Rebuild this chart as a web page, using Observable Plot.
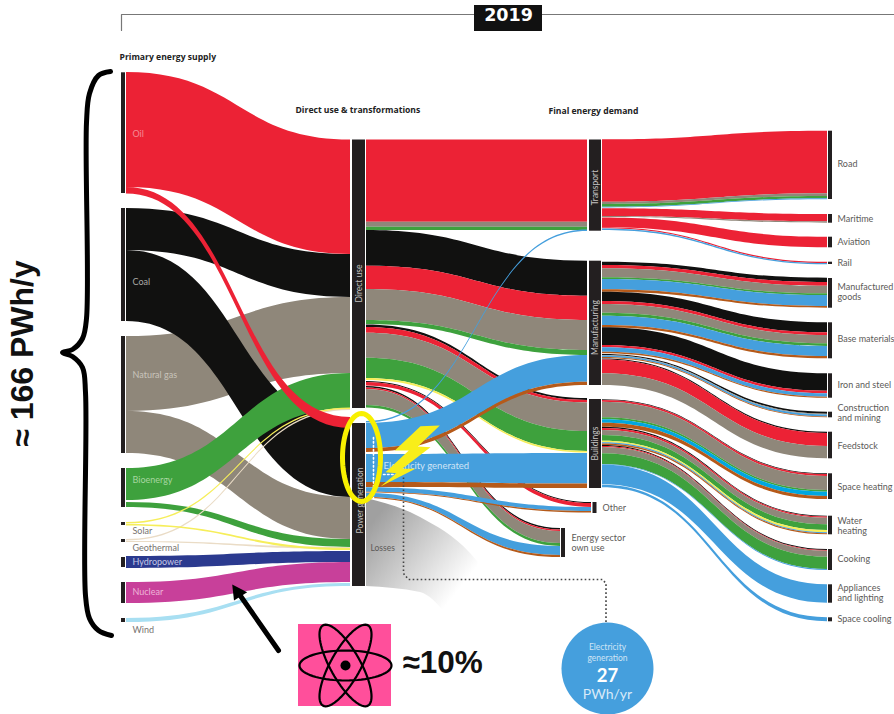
<!DOCTYPE html>
<html>
<head>
<meta charset="utf-8">
<style>html,body{margin:0;padding:0;background:#fff;overflow:hidden}</style>
<script src="https://cdn.jsdelivr.net/npm/d3@7"></script>
<script src="https://cdn.jsdelivr.net/npm/@observablehq/plot@0.6"></script>
</head>
<body>
<div id="chart"></div>
<script>
// Fuels and their colours
const fuels = ["oil","coal","gas","bio","solar","geo","hydro","nuclear","wind","elec","heat","district"];
const fuelColors = ["#ec2235","#111110","#8f877a","#3ea13d","#f6ee5a","#eadcc6","#2b3a8f","#c8409a","#a8dff2","#459fdd","#b55a1a","#00a7e1"];

// Each flow: fuel, top and bottom at its start, top and bottom at its end (chart units)
const supplyFlows = [
  ["gas",336,411,297,373],["gas",411,453,497,539],
  ["coal",208,250,254,297],["coal",250,321,424,497],
  ["oil",72,187,139.5,254],
  ["hydro",556,568,551,562],["nuclear",582,603,562,582],["wind",618,622,583,586],
  ["bio",468,500,373,408],["bio",502,507,539,547],
  ["geo",539,540.5,408.5,410],["geo",541,542,547,549],
  ["solar",522,523.5,407.5,409],["solar",524,525.5,548,550],
  ["oil",187,193.5,417,428]
];
const energySectorFuels = [["coal",386,387.5,528,529.5],["oil",387.5,389,529.5,531],["gas",389,405,531,543],["bio",405,407.5,543,546]];
const otherFuels = [["coal",381,382,502,503],["oil",382,385.5,503,507]];
const directFlows = [
  ["coal",324.5,327,398,400],["oil",327,332.7,400,402.5],["gas",332.7,357.7,402.5,431],["bio",357.7,378,431,451],["solar",378,380,451,452.5],
  ["oil",139.5,221.7,139.5,221.7],["gas",221.7,226.7,221.7,226.7],["bio",226.7,230,226.7,230],
  ["coal",230,265.7,260.7,295.7],["oil",265.7,289,295.7,320],["gas",289,320,320,350],["bio",320,324,350,355],
  ["elec",421,422.5,229.5,231]
];
const energySectorPower = [["elec",493,497,546,555],["heat",497,498,555,557]];
const otherPower = [["elec",487.3,491.7,507,511],["heat",491.7,492.5,511,512.5]];
const powerFlows = [
  ["elec",454,482,453,483.5],["heat",482,487,483.5,488],
  ["elec",423,448,355,381.7],["heat",448,452,381.7,385]
];
const demandFlows = [
  ["oil",139.3,201.7,130.7,193.3],["gas",201.7,204,193.3,196],["bio",204,206.7,196,198.3],["elec",206.7,207.5,198.3,199.2],
  ["oil",208.3,216,214,221.3],["gas",216,217,221.3,222.7],
  ["oil",217.5,227.3,236.7,247.3],
  ["oil",227.3,228.3,261.7,263],["elec",228.5,230,263,264.3],
  ["coal",261.7,265,277.7,282],["oil",265,268.3,282,285.7],["gas",268.3,277.3,285.7,293.3],["bio",277.3,279,293.3,295],["elec",279,289.3,295,306],["heat",289.3,291.7,306,307.7],
  ["coal",291.7,301,322.3,332.3],["oil",301,304,332.3,335],["gas",304,312.7,335,343.3],["bio",312.7,315.7,343.3,346],["elec",315.7,325,346,356],["heat",325,327.3,356,358.3],
  ["coal",327.3,345,373.3,390.7],["oil",345,347.3,390.7,393.3],["elec",347.3,351.7,393.3,396.7],["heat",351.7,353.3,396.7,397.7],
  ["coal",354,355,411.7,413.7],["gas",355,355.5,413.7,414.5],["elec",355.5,357,414.5,416.5],["heat",357,358,416.5,417.3],
  ["coal",358.5,359.5,431.7,433],["oil",359.5,373.3,433,446],["gas",373.3,385,446,458.3],
  ["coal",399.3,400,473.3,474],["oil",400,401.7,474,476],["gas",401.7,417.3,476,490],["bio",417.3,419.3,490,491.7],["district",419.3,422.7,491.7,496],["heat",422.7,426.7,496,499],
  ["coal",426.7,428,515.7,516.5],["oil",428,430,516.5,517.7],["gas",430,435,517.7,524.3],["bio",435,440.7,524.3,530],["solar",440.7,442.3,530,532.3],["elec",442.3,443.5,532.3,533.3],["heat",443.5,445,533.3,534.3],
  ["coal",445,446,549,550],["oil",446,447,550,550.7],["gas",447,453.3,550.7,556.7],["bio",453.3,464,556.7,569],["elec",464,464.5,569,570],
  ["elec",464.5,484.3,584.3,602.7],["elec",484.8,487.3,617.3,621.3]
];

// Stage columns
const supplySpan = [126,350];
const directSpan = [366,587];
const energySpan = [366,560];
const otherSpan = [366,591];
const demandSpan = [602,827];

// Node bars
const supplyNodes = [[72.3,193],[208,321],[336,453],[468,507],[522,525],[539,542],[557,567],[582,603],[618,622]];
const middleNodes = [[139.5,408],[423,586]];
const finalNodes = [[139.5,230.7],[260.7,385],[399,488]];
const demandNodes = [[130.7,199],[214,222.7],[236.7,247.3],[261.7,264],[278,307.7],[322.3,358.3],[373.3,397.7],[411.7,417.3],[431.7,458.3],[473.3,499],[515.7,534.3],[549,570],[584.3,602.7],[617.3,621.3]];
const sideNodes = [[592.5,596.5,502,513],[561,565,528,557]];

// Texts
const supplyNames = ["Oil","Coal","Natural gas","Bioenergy","Solar","Geothermal","Hydropower","Nuclear","Wind"];
const supplyNameY = [134,282,375,480,531,548,562,592,630];
const supplyNameColor = ["#f48a96","#aaa8a4","#c9c4ba","#a6d6a0","#77736f","#77736f","#c5c9e6","#eeb5d8","#77736f"];
const demandNames = ["Road","Maritime","Aviation","Rail","Manufactured","goods","Base materials","Iron and steel","Construction","and mining","Feedstock","Space heating","Water","heating","Cooking","Appliances","and lighting","Space cooling"];
const demandNameY = [164,219,242,263,287,297,339,385,407.5,417.5,446,487,521,531,559,588,598,619];
const headers = ["Primary energy supply","Direct use & transformations","Final energy demand"];
const headerX = [119,295,548];
const headerY = [57,110,111];
const stageNames = ["Direct use","Power generation","Transport","Manufacturing","Buildings"];
const stageNameX = [359,359.5,595,595,595];
const stageNameY = [283,500,187,327,443];

// Annotation outlines
const brace = [[110,71],[98,75],[89,93],[86,122],[86,318],[82,338],[72,349],[62,352],[72,356],[82,367],[85,392],[85,595],[89,618],[98,630],[111,635]];
const bolt = [[420,425.7],[439.3,425],[417.3,446],[430,446.7],[401.7,468.3],[415,468.3],[380,486],[396,472.7],[385,471.7],[408.3,450],[394.3,450]];
const arrowHead = [[231.7,584],[233.5,600],[246.7,591.7]];
const arrowShaft = [[278,650],[239,594]];
const bracket = [[121,30],[121,14],[894,14]];
const calloutDark = [[403,477],[403,573],[408,579],[602,579],[605.5,583],[605.5,626]];
const calloutLight = [[373,437],[373,498]];
const calloutLight2 = [[383,474],[403,474]];
const lossesTop = [[366,498],[420,517],[470,553],[505,600]];
const lossesBottom = [586,592,640,660];

let ribbonId = 0;
function ribbons(rows, span) {
  return rows.flatMap(r => {
    const id = ribbonId++;
    return [
      {id, fuel:r[0], x:span[0], y1:r[1], y2:r[2]},
      {id, fuel:r[0], x:span[1], y1:r[3], y2:r[4]}
    ];
  });
}
const flowMark = (rows, span) => Plot.area(ribbons(rows, span), {
  x1:"x", y1:"y1", y2:"y2", z:"id", fill:"fuel", curve:"bump-x"
});
const nodeMark = (rows, x1, x2) => Plot.rect(rows, {
  x1:() => x1, x2:() => x2, y1:d => d[0], y2:d => d[1], fill:"#231f20"
});
const xy = {x:d => d[0], y:d => d[1]};
const labelFont = "Lato";

function ellipse(rot) {
  const a = 46, b = 15, cx = 345, cy = 665, c = Math.cos(rot), s = Math.sin(rot);
  return d3.range(0, 73).map(k => {
    const t = k / 72 * 2 * Math.PI, u = a * Math.cos(t), v = b * Math.sin(t);
    return {rot, x: cx + u * c - v * s, y: cy + u * s + v * c};
  });
}
const atom = [0, 1.06, -1.06].flatMap(ellipse);
function ellipseYellow() {
  return d3.range(0, 73).map(k => {
    const t = k / 72 * 2 * Math.PI;
    return {x: 361 + 19 * Math.cos(t), y: 457 + 44 * Math.sin(t)};
  });
}

const defs = () => {
  const g = d3.create("svg:defs");
  const lg = g.append("linearGradient").attr("id","lossGrad").attr("gradientUnits","userSpaceOnUse")
    .attr("x1",366).attr("y1",530).attr("x2",452).attr("y2",598);
  lg.append("stop").attr("offset",0).attr("stop-color","#a0a0a0");
  lg.append("stop").attr("offset",1).attr("stop-color","#ffffff");
  return g.node();
};
const lossRows = lossesTop.map((p, i) => ({x:p[0], y1:p[1], y2:lossesBottom[i]}));

const chart = Plot.plot({
  width:894, height:714, margin:0,
  style:{background:"#fff", fontFamily:labelFont},
  x:{domain:[0,894], range:[0,894], axis:null},
  y:{domain:[0,714], range:[0,714], axis:null},
  color:{type:"ordinal", domain:fuels, range:fuelColors},
  marks:[
    defs,
    Plot.area(lossRows, {x1:"x", y1:"y1", y2:"y2", fill:"url(#lossGrad)", curve:"monotone-x"}),
    flowMark(supplyFlows, supplySpan),
    flowMark(energySectorFuels, energySpan),
    flowMark(otherFuels, otherSpan),
    flowMark(directFlows, directSpan),
    flowMark(energySectorPower, energySpan),
    flowMark(otherPower, otherSpan),
    flowMark(powerFlows, directSpan),
    flowMark(demandFlows, demandSpan),
    nodeMark(supplyNodes, 121, 125),
    nodeMark(middleNodes, 352, 365),
    nodeMark(finalNodes, 589, 601),
    nodeMark(demandNodes, 828, 832),
    Plot.rect(sideNodes, {x1:d => d[0], x2:d => d[1], y1:d => d[2], y2:d => d[3], fill:"#231f20"}),

    // dotted callouts
    Plot.line(calloutDark, {...xy, stroke:"#444", strokeWidth:1.6, strokeDasharray:"1.6 2.4", strokeLinecap:"butt"}),
    Plot.line(calloutLight, {...xy, stroke:"#fff", strokeWidth:1.6, strokeDasharray:"1.6 2.4"}),
    Plot.line(calloutLight2, {...xy, stroke:"#fff", strokeWidth:1.6, strokeDasharray:"1.6 2.4"}),

    // text on the diagram
    Plot.text(supplyNames, {x:() => 132, y:(d,i) => supplyNameY[i], text:d => d, fill:(d,i) => supplyNameColor[i], textAnchor:"start", fontSize:9, fontFamily:labelFont}),
    Plot.text(demandNames, {x:() => 837, y:(d,i) => demandNameY[i], text:d => d, fill:"#5c5a58", textAnchor:"start", fontSize:9, fontFamily:labelFont}),
    Plot.text(headers, {x:(d,i) => headerX[i], y:(d,i) => headerY[i], text:d => d, fill:"#222", textAnchor:"start", fontSize:8.6, fontWeight:"bold", fontFamily:"Open Sans"}),
    Plot.text(stageNames, {x:(d,i) => stageNameX[i], y:(d,i) => stageNameY[i], text:d => d, rotate:-90, fill:"#c4c2c0", fontSize:8.5, fontFamily:labelFont}),
    Plot.text(["Other"], {x:() => 602, y:() => 508, text:d => d, fill:"#5c5a58", textAnchor:"start", fontSize:9, fontFamily:labelFont}),
    Plot.text(["Energy sector","own use"], {x:() => 571, y:(d,i) => 538 + i * 10, text:d => d, fill:"#5c5a58", textAnchor:"start", fontSize:9, fontFamily:labelFont}),
    Plot.text(["Losses"], {x:() => 370, y:() => 548, text:d => d, fill:"#5c5a58", textAnchor:"start", fontSize:8.5, fontFamily:labelFont}),
    Plot.text(["Electricity generated"], {x:() => 383, y:() => 465, text:d => d, fill:"#cfe4f5", textAnchor:"start", fontSize:9.5, fontFamily:labelFont}),

    // year bracket
    Plot.line(bracket, {...xy, stroke:"#777", strokeWidth:1.2}),
    Plot.rect([0], {x1:() => 474, x2:() => 542, y1:() => 5, y2:() => 31, fill:"#111"}),
    Plot.text(["2019"], {x:() => 508, y:() => 15, text:d => d, fill:"#fff", fontSize:17.5, fontWeight:"bold", fontFamily:"DejaVu Sans"}),

    // annotation overlay
    Plot.line(brace, {...xy, stroke:"#000", strokeWidth:5, curve:"catmull-rom"}),
    Plot.text(["≈ 166 PWh/y"], {x:() => 22, y:() => 353, text:d => d, rotate:-90, fill:"#111", fontSize:32, fontWeight:"bold", fontFamily:"Liberation Sans"}),
    Plot.line(ellipseYellow(), {x:"x", y:"y", stroke:"#f8f000", strokeWidth:5}),
    Plot.line(bolt.concat([bolt[0]]), {...xy, fill:"#f8ee1a", stroke:"none"}),
    Plot.line(arrowShaft, {...xy, stroke:"#000", strokeWidth:5}),
    Plot.line(arrowHead.concat([arrowHead[0]]), {...xy, fill:"#000", stroke:"none"}),

    // nuclear icon
    Plot.rect([0], {x1:() => 298, x2:() => 391, y1:() => 624, y2:() => 706, fill:"#ff4f9b"}),
    Plot.line(atom, {x:"x", y:"y", z:"rot", stroke:"#000", strokeWidth:2.2}),
    Plot.dot([0], {x:() => 345, y:() => 665, r:5, fill:"#000"}),
    Plot.text(["≈10%"], {x:() => 402, y:() => 662, text:d => d, textAnchor:"start", fill:"#111", fontSize:31.5, fontWeight:"bold", fontFamily:"Liberation Sans"}),

    // electricity circle
    Plot.dot([0], {x:() => 607, y:() => 668, r:46, fill:"#459fdd"}),
    Plot.text(["Electricity","generation"], {x:() => 607, y:(d,i) => 647 + i * 11, text:d => d, fill:"#cfe4f5", fontSize:8.5, fontFamily:labelFont}),
    Plot.text(["27"], {x:() => 607, y:() => 676, text:d => d, fill:"#fff", fontSize:18.5, fontWeight:"bold", fontFamily:labelFont}),
    Plot.text(["PWh/yr"], {x:() => 607, y:() => 694, text:d => d, fill:"#d8eaf8", fontSize:14, fontFamily:labelFont})
  ]
});
document.getElementById("chart").appendChild(chart);
</script>
</body>
</html>
